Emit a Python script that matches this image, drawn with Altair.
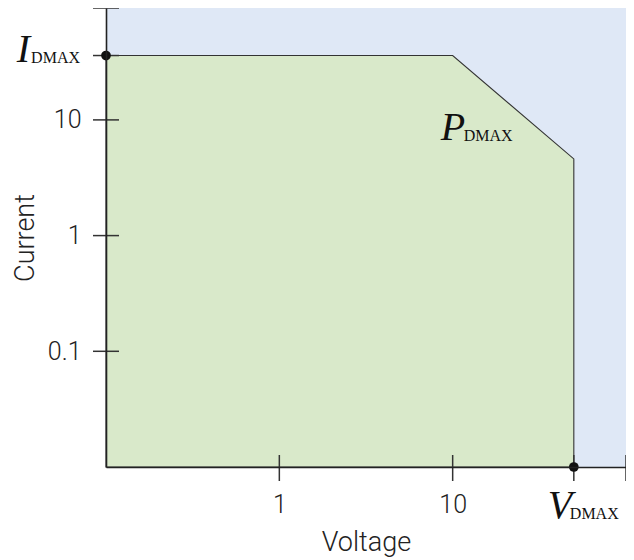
import altair as alt
import pandas as pd

# --- data ---
V_MIN, V_MAX = 0.1, 100        # voltage axis range
I_MIN, I_TOP = 0.01, 92.7      # current axis range (top of plot)
I_DMAX = 36                    # max drain current
V_KNEE = 10                    # voltage where power limit starts
V_DMAX = 50                    # max drain voltage
I_AT_VDMAX = 4.6               # current at V_DMAX on the power limit

boundary_v = [V_MIN, V_KNEE, V_DMAX]
boundary_i = [I_DMAX, I_DMAX, I_AT_VDMAX]

x_label_values = [1, 10]
y_label_values = [10, 1, 0.1]
x_tick_values = [1, 10, V_DMAX, 100]
y_tick_values = [I_TOP, I_DMAX, 10, 1, 0.1]

W, H = 520, 459
BLUE = "#dfe8f6"
GREEN = "#d9e9ca"
INK = "#222222"
SANS = "Roboto"

xs = alt.Scale(type="log", domain=[V_MIN, V_MAX], nice=False)
ys = alt.Scale(type="log", domain=[I_MIN, I_TOP], nice=False)

x_axis = alt.Axis(values=x_label_values, format="~g", ticks=False, tickSize=0,
                  labelPadding=25, grid=False, domainColor="#222", domainWidth=1.6,
                  zindex=1, titleX=W / 2, titleY=83, titleBaseline="alphabetic")
y_axis = alt.Axis(values=y_label_values, format="~g", ticks=False, tickSize=0,
                  labelPadding=25, grid=False, domainColor="#222", domainWidth=1.6,
                  zindex=1, titleX=-73, titleY=H / 2, titleBaseline="alphabetic",
                  titleAngle=270)

X = alt.X("v:Q", scale=xs, title="Voltage", axis=x_axis)
Y = alt.Y("i:Q", scale=ys, title="Current", axis=y_axis)

area_df = pd.DataFrame({"v": boundary_v, "i": boundary_i, "base": [I_MIN] * 3})

area = alt.Chart(area_df).mark_area(
    fill=GREEN, stroke="#333333", strokeWidth=1.1, interpolate="linear", opacity=1
).encode(x=X, y=Y, y2="base:Q")

xt = alt.Chart(pd.DataFrame({"v": x_tick_values})).mark_rule(
    color="#333333", strokeWidth=1.5
).encode(x=X, y=alt.value(H - 12), y2=alt.value(H + 14))

yt = alt.Chart(pd.DataFrame({"i": y_tick_values})).mark_rule(
    color="#333333", strokeWidth=1.5
).encode(y=Y, x=alt.value(-13), x2=alt.value(13))

dots_df = pd.DataFrame({"v": [V_MIN, V_DMAX], "i": [I_DMAX, I_MIN]})
dots = alt.Chart(dots_df).mark_circle(size=95, color="#111111", opacity=1).encode(x=X, y=Y)


def label(v, i, big, dx_big, dy_big, dx_small, dy_small, align):
    df = pd.DataFrame({"v": [v], "i": [i]})
    base = alt.Chart(df).encode(x=X, y=Y)
    b = base.mark_text(text=big, font="Liberation Serif", fontStyle="italic", fontSize=40,
                       color="#111111", align=align, baseline="alphabetic",
                       dx=dx_big, dy=dy_big)
    s = base.mark_text(text="DMAX", font="Liberation Serif", fontSize=16,
                       color="#111111", align=align, baseline="alphabetic",
                       dx=dx_small, dy=dy_small)
    return b + s


lab_i = label(V_MIN, I_DMAX, "I", -76, 6, -26, 7, "right")
lab_p = label(V_KNEE, I_DMAX, "P", -12, 84, 11, 85, "left")
lab_v = label(V_DMAX, I_MIN, "V", -26, 51, -4, 52, "left")

chart = alt.layer(area, xt, yt, dots, lab_i, lab_p, lab_v).properties(
    width=W, height=H,
    autosize=alt.AutoSizeParams(type="none"),
    padding={"left": 98, "top": 0, "right": 0, "bottom": 90},
).configure_view(
    fill=BLUE, stroke=None
).configure_axis(
    labelFont=SANS, labelFontSize=25, labelFontWeight=300, labelColor=INK,
    titleFont=SANS, titleFontSize=27, titleFontWeight=300, titleColor=INK,
)

chart.save("out.html", embed_options={"renderer": "svg", "actions": False})
